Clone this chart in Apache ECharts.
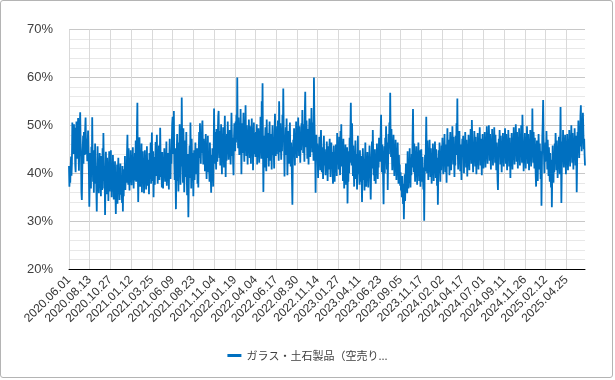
<!DOCTYPE html>
<html><head><meta charset="utf-8">
<script src="https://cdn.jsdelivr.net/npm/echarts@6/dist/echarts.min.js"></script>
<style>
html,body{margin:0;padding:0;background:#fff;}
#box{position:absolute;left:0;top:0;width:611px;height:376px;border:1px solid #b4b4b4;border-radius:3px;}
#chart{position:absolute;left:0;top:0;width:615px;height:380px;}
</style></head>
<body><div id="box"></div><div id="chart"></div>
<script>
const seriesName = 'ガラス・土石製品（空売り...';
const tickLabels = ['2020.06.01','2020.08.13','2020.10.27','2021.01.12','2021.03.25','2021.06.09','2021.08.23','2021.11.04','2022.01.19','2022.04.04','2022.06.17','2022.08.30','2022.11.14','2023.01.27','2023.04.11','2023.06.23','2023.09.05','2023.11.17','2024.02.02','2024.04.17','2024.07.01','2024.09.11','2024.11.26','2025.02.12','2025.04.25'];
const yTicks = [20,30,40,50,60,70];
const values = [
41.5,37.2,40.8,38.0,41.2,43.5,39.5,42.0,50.6,47.2,
48.5,44.0,50.2,46.8,49.5,41.8,40.2,47.5,50.8,45.2,
43.0,48.6,51.5,44.8,40.5,46.2,49.8,52.7,47.0,43.5,
36.1,34.4,40.2,44.5,47.8,42.0,48.6,45.3,43.8,49.2,
51.6,46.5,44.0,47.2,42.5,45.8,48.9,44.2,40.3,33.0,
38.5,44.2,41.0,36.8,45.5,40.2,51.7,43.6,38.2,42.8,
35.9,44.8,39.5,46.2,37.8,41.5,36.4,32.0,40.8,45.6,
38.2,42.5,35.8,39.6,44.2,37.5,41.8,35.2,43.6,39.0,
36.5,45.2,38.4,48.4,42.0,36.8,40.5,31.3,38.2,44.5,
40.6,35.6,43.2,37.8,41.2,34.2,39.8,44.6,36.2,41.0,
37.5,44.8,38.2,35.0,41.6,36.2,43.8,39.4,34.5,40.2,
37.0,42.5,35.8,31.5,38.4,36.0,41.8,33.6,39.2,43.2,
36.8,40.5,34.4,38.8,42.0,35.5,39.6,37.2,33.8,41.5,
32.0,38.6,35.2,40.8,37.4,43.6,36.5,39.8,41.2,38.0,
44.2,48.0,40.5,37.6,45.2,39.8,36.4,42.6,38.2,44.8,
40.2,37.5,43.8,39.6,45.4,41.0,36.8,42.6,38.5,44.2,
40.6,46.8,38.2,42.4,49.5,54.7,41.2,34.0,39.8,45.2,
47.5,40.8,37.2,43.6,39.4,46.2,36.0,41.8,44.6,38.6,
42.4,35.8,40.2,44.8,38.0,43.2,36.6,41.4,45.6,39.2,
37.4,42.8,40.0,35.6,44.2,38.8,41.6,46.4,37.8,43.0,
48.5,41.2,38.4,44.6,35.0,40.8,43.4,37.6,42.2,46.5,
39.4,44.0,48.0,41.6,37.8,43.2,40.4,45.8,38.6,42.0,
49.5,43.6,39.2,41.8,37.0,44.4,40.6,36.8,42.8,39.6,
45.2,41.0,38.2,43.8,40.2,46.6,37.4,42.4,39.0,44.2,
41.4,36.6,43.0,47.2,40.0,38.8,44.8,42.0,46.0,50.2,
51.8,44.0,47.6,53.0,42.4,38.6,45.2,40.0,32.5,39.8,
44.6,48.2,38.4,42.8,36.2,46.4,40.6,50.2,43.0,37.6,
45.8,41.4,55.8,47.0,42.2,38.0,49.4,44.4,36.0,41.2,
46.8,39.2,43.6,48.6,40.2,35.4,44.0,38.8,30.8,37.4,
42.6,45.8,39.0,50.6,43.4,36.8,47.2,41.6,38.4,44.2,
35.2,40.6,44.8,38.6,42.2,46.4,39.8,43.6,41.0,45.2,
37.8,42.6,37.0,44.4,48.6,43.2,50.4,45.8,42.0,47.6,
44.2,49.8,51.0,45.4,41.8,47.2,43.6,46.0,40.4,44.8,
48.2,42.4,38.8,45.6,43.0,47.8,40.2,44.6,41.4,38.2,
46.4,42.2,39.6,35.9,43.8,40.0,45.2,41.6,37.2,44.0,
53.5,46.2,42.0,48.6,44.4,40.8,49.2,45.6,42.4,47.8,
51.8,53.0,46.4,43.2,48.8,41.6,46.0,50.2,44.2,39.8,
47.4,43.8,49.6,45.0,41.2,46.8,52.0,44.6,39.2,45.8,
42.6,48.2,44.0,50.8,46.6,42.8,47.2,43.4,49.0,45.2,
41.8,46.4,52.6,48.0,43.6,47.4,42.2,39.6,46.8,50.4,
48.2,44.6,50.8,46.4,52.2,47.6,60.0,49.4,45.2,51.6,
47.0,43.8,49.6,45.4,53.4,48.2,39.8,46.6,50.4,44.2,
48.8,52.6,46.0,42.4,49.2,45.8,54.2,47.4,43.6,50.0,
46.2,41.8,48.6,44.8,51.2,47.0,43.2,49.8,45.6,42.0,
47.8,51.4,44.4,49.0,40.6,46.8,50.6,44.0,48.4,45.2,
43.4,48.6,45.0,50.2,41.8,47.4,44.2,49.4,46.0,42.2,
48.0,44.6,51.8,47.2,43.0,55.0,49.0,58.8,45.4,36.1,
43.6,47.8,41.2,46.4,49.6,44.0,40.4,51.2,46.8,43.2,
48.4,45.6,41.4,47.0,50.8,44.8,42.6,48.2,45.8,40.8,
46.6,50.0,43.8,47.6,44.4,41.0,48.8,52.4,46.2,43.6,
47.2,44.0,49.8,45.4,51.0,46.8,42.6,55.0,48.6,44.4,
50.4,46.2,42.8,48.0,44.6,52.2,47.6,57.7,49.2,45.0,
39.3,47.4,43.8,49.6,45.2,51.4,46.0,39.6,44.8,48.8,
45.6,42.0,47.8,50.6,44.2,41.4,46.4,43.0,38.6,33.4,
42.4,47.0,44.6,49.4,45.8,41.6,48.2,44.0,50.8,46.6,
43.2,48.4,45.0,51.6,47.2,43.6,49.8,46.0,42.2,48.6,
44.8,50.4,46.6,53.2,48.0,44.2,50.2,46.8,42.4,52.8,
57.0,48.8,45.4,51.0,47.4,43.0,49.2,45.6,41.8,47.6,
51.4,46.2,43.4,49.0,45.8,53.6,48.2,44.4,50.6,46.4,
42.6,60.0,51.8,47.0,43.8,35.9,44.6,48.0,42.8,46.2,
43.4,39.0,45.8,42.2,47.6,44.0,40.6,46.2,49.0,43.6,
40.2,45.4,42.8,38.8,44.6,47.8,41.6,45.0,42.4,39.6,
44.2,41.0,46.6,43.2,38.4,42.0,45.6,40.8,44.8,47.2,
42.6,39.2,43.8,46.4,41.2,44.4,40.0,37.8,43.0,45.8,
41.4,38.2,44.2,40.4,46.0,42.8,39.4,48.4,44.6,41.8,
45.2,40.8,47.6,43.4,39.6,48.8,44.0,50.2,41.4,46.6,
43.0,38.4,47.2,42.6,36.8,44.8,40.2,46.0,37.6,42.8,
39.0,45.4,33.7,41.2,38.2,44.6,40.0,47.4,42.2,48.6,
54.7,46.2,41.6,50.4,44.4,39.4,45.8,41.0,37.2,43.6,
40.6,46.8,38.8,44.0,41.8,36.6,42.4,47.8,39.8,43.2,
41.2,37.6,44.8,40.4,38.2,43.6,39.0,34.0,40.6,45.2,
41.8,38.6,43.0,36.4,42.2,46.4,40.0,37.2,42.8,39.4,
44.4,40.8,37.0,43.4,39.8,45.8,41.4,38.0,34.5,40.2,
43.8,46.6,41.0,49.0,44.2,39.6,42.6,38.4,45.0,41.6,
37.8,43.2,40.0,46.2,42.0,38.8,44.6,41.2,47.4,43.8,
46.8,42.4,48.6,52.2,44.8,40.2,46.0,42.6,38.4,33.5,
41.2,45.6,40.0,47.4,43.0,49.8,44.6,40.8,46.4,36.5,
42.8,48.2,44.0,50.6,46.2,56.8,47.6,43.4,49.2,44.8,
40.6,46.6,42.2,48.0,43.6,39.4,45.4,41.0,47.0,42.4,
38.6,44.2,40.4,46.4,42.0,37.8,43.8,39.6,41.8,37.4,
40.2,36.4,38.8,35.0,39.4,36.2,33.6,37.8,30.4,35.6,
39.8,34.2,38.6,42.0,37.4,40.6,35.8,44.6,39.2,36.8,
41.4,38.0,45.2,40.4,37.0,42.8,39.6,44.0,41.2,47.8,
53.4,44.8,40.2,46.2,42.4,38.2,43.6,40.0,45.6,41.8,
37.6,43.2,39.4,46.4,42.6,38.4,44.8,40.8,37.2,42.4,
45.0,40.6,38.2,43.4,39.0,36.6,41.2,30.1,38.8,43.8,
40.4,45.6,51.8,44.2,40.0,46.8,42.2,38.6,44.6,41.0,
47.0,42.8,39.2,45.2,41.4,37.8,43.6,40.2,46.2,42.6,
38.4,44.0,40.8,46.6,42.4,39.0,45.0,41.6,37.4,43.2,
33.4,39.6,44.8,41.2,46.4,42.0,38.2,44.4,40.6,45.8,
42.2,47.4,43.6,39.8,45.6,41.8,48.2,44.0,40.2,46.0,
42.6,38.0,44.8,49.4,45.2,41.4,47.0,43.2,39.6,45.8,
48.6,44.4,40.6,46.6,42.8,49.8,45.6,41.8,47.6,43.4,
39.2,45.2,41.6,47.8,43.8,50.4,46.2,55.6,44.6,40.8,
46.8,43.0,48.8,44.2,40.4,46.0,42.4,38.6,44.8,47.2,
43.4,47.8,44.2,40.0,46.4,42.6,48.6,44.8,41.2,47.0,
43.6,39.3,45.4,41.8,48.0,44.4,40.6,46.6,43.0,49.2,
45.6,42.0,51.1,47.4,43.8,40.2,46.2,42.4,48.8,45.0,
41.4,47.6,43.6,39.8,45.8,42.2,48.4,44.6,40.8,46.8,
43.2,49.6,45.4,41.6,47.2,43.4,39.6,45.6,48.2,44.0,
41.0,46.6,43.0,48.6,44.8,41.2,47.0,43.4,49.8,45.6,
42.0,47.8,44.2,50.0,46.4,42.6,48.2,44.4,40.8,46.8,
43.2,49.2,45.2,41.6,47.6,43.8,49.6,45.8,42.2,48.0,
44.6,40.6,46.4,42.8,38.6,36.5,42.4,47.2,43.6,49.0,
45.4,41.8,47.8,44.0,40.2,46.2,42.8,48.4,44.8,41.4,
47.6,43.8,49.4,45.8,42.0,48.2,44.4,40.6,46.6,43.0,
49.0,45.2,41.4,47.4,43.6,39.0,45.6,42.0,48.4,44.6,
40.8,46.8,43.2,49.6,45.6,41.8,47.8,44.0,50.2,46.2,
42.4,48.6,44.8,41.0,47.0,43.4,49.4,45.4,41.6,47.6,
43.8,50.0,46.0,42.2,52.2,48.0,44.2,40.4,46.4,42.6,
48.4,44.6,41.0,47.2,43.4,49.8,45.8,42.0,48.2,44.4,
40.6,46.6,42.8,49.0,45.2,41.4,47.6,43.6,53.5,46.0,
42.2,48.6,44.8,41.0,47.4,43.6,39.8,37.2,43.2,46.8,
41.6,38.4,44.2,48.2,44.4,40.8,46.2,42.6,38.8,44.6,
33.2,41.2,47.6,50.4,55.3,47.8,43.8,40.0,46.0,42.4,
46.4,42.6,48.8,44.6,40.8,47.0,43.2,39.4,45.4,41.6,
38.2,44.2,40.4,37.0,42.8,32.9,39.6,45.8,41.8,38.0,
44.0,40.2,46.2,42.4,48.4,44.6,40.6,46.8,42.8,39.0,
45.2,41.4,47.6,43.6,39.8,46.0,53.8,44.2,33.8,40.6,
46.6,42.8,49.0,45.0,41.2,47.4,43.6,48.0,44.0,39.8,
45.8,42.0,48.2,44.4,40.6,46.6,42.8,49.0,45.2,41.4,
47.4,43.6,50.0,46.0,42.2,48.4,44.6,40.8,46.8,43.0,
49.4,45.4,41.6,47.8,44.0,36.0,42.2,48.6,44.8,51.0,
47.0,43.2,49.6,45.6,52.0,54.2,48.4,44.6,50.6,46.8,
52.6,48.8,45.0,47.2,43.8,41.6
];
const tickStep = 50;
const categories = values.map((v, i) => (i % tickStep === 0 && tickLabels[i / tickStep]) ? tickLabels[i / tickStep] : '');

const chart = echarts.init(document.getElementById('chart'), null, {renderer: 'canvas'});
chart.setOption({
  animation: false,
  backgroundColor: 'transparent',
  grid: {left: 69, right: 30, top: 29.5, bottom: 111, containLabel: false},
  legend: {
    bottom: 14, left: 'center',
    itemWidth: 14, itemHeight: 3, itemGap: 8,
    icon: 'rect',
    textStyle: {fontFamily: '"Noto Sans CJK JP", sans-serif', fontSize: 11, color: '#404040'},
    data: [seriesName]
  },
  xAxis: {
    type: 'category',
    data: categories,
    boundaryGap: false,
    axisLine: {show: true, lineStyle: {color: '#000', width: 1}},
    axisTick: {show: false},
    axisLabel: {interval: tickStep - 1, rotate: 45, margin: 9, fontSize: 12, color: '#333', fontFamily: '"Liberation Sans", Arial, sans-serif'},
    splitLine: {show: true, interval: tickStep - 1, lineStyle: {color: '#d9d9d9', width: 1}}
  },
  yAxis: {
    type: 'value',
    min: yTicks[0], max: yTicks[yTicks.length - 1], interval: 10,
    axisLine: {show: false},
    axisTick: {show: false},
    axisLabel: {formatter: '{value}%', fontSize: 13, color: '#404040', margin: 16, fontFamily: '"Liberation Sans", Arial, sans-serif'},
    splitLine: {show: true, lineStyle: {color: '#c8c8c8', width: 1}},
    minorTick: {show: false, splitNumber: 5},
    minorSplitLine: {show: true, lineStyle: {color: '#e8e8e8', width: 1}}
  },
  series: [{
    name: seriesName,
    type: 'line',
    data: values,
    showSymbol: false,
    symbol: 'none',
    lineStyle: {color: '#0070C0', width: 1.8},
    itemStyle: {color: '#0070C0'}
  }]
});
</script>
</body></html>
